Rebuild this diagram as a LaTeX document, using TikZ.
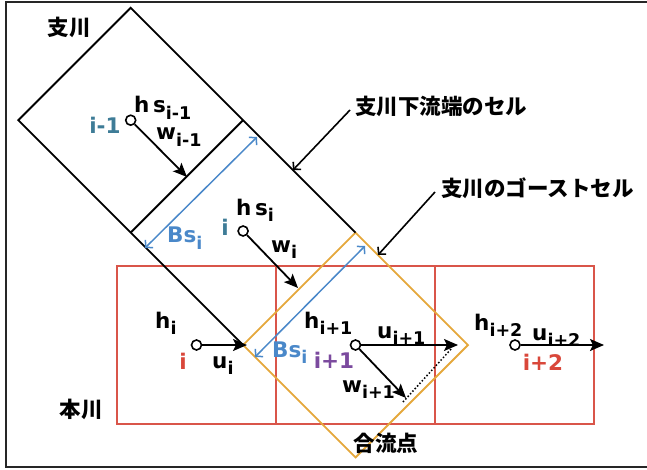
\documentclass[tikz,border=0pt]{standalone}
\usepackage{fontspec}
\setmainfont{DejaVu Sans}
\newfontfamily\jp{Noto Sans CJK JP}
\usetikzlibrary{arrows.meta}
\definecolor{cellred}{HTML}{D9554A}
\definecolor{ghost}{HTML}{E5A83C}
\definecolor{bsblue}{HTML}{4A88C9}
\definecolor{teal}{HTML}{3E7C97}
\definecolor{idxred}{HTML}{D9473A}
\definecolor{idxpur}{HTML}{7B4A9E}
\newcommand\sbs[1]{\raisebox{-0.28em}{\fontsize{17.5}{17.5}\selectfont #1}}
\tikzset{
  lab/.style={font=\fontsize{21.5}{21.5}\selectfont\bfseries, inner sep=0pt},
  jlab/.style={font=\jp\fontsize{21.5}{21.5}\selectfont\bfseries, inner sep=0pt},
  pt/.style={circle, draw, fill=white, minimum size=10pt, inner sep=0pt, line width=1.6pt},
  flow/.style={line width=1.8pt, -{Stealth[length=14pt,width=12pt,inset=3pt]}},
  leader/.style={line width=1.6pt, -{Straight Barb[length=5pt,width=11pt]}},
  bs/.style={bsblue, line width=1.5pt, {Straight Barb[length=5pt,width=11pt]}-{Straight Barb[length=5pt,width=11pt]}},
  cellbox/.style={cellred, line width=2.3pt},
  ghostbox/.style={ghost, line width=1.9pt},
  tribbox/.style={black, line width=1.9pt, line join=miter}
}
\begin{document}
\begin{tikzpicture}[x=1pt,y=-1pt]
\useasboundingbox (0,0) rectangle (647,470);
\draw[line width=2pt, black!85] (6,2) rectangle (655,467);

% geometry
\coordinate (T1) at (130.7,7.8);
\coordinate (L1) at (18.3,120.2);
\coordinate (T2) at (243.1,120.2);
\coordinate (L2) at (130.7,232.6);
\coordinate (R2) at (355.5,232.6);
\coordinate (B2) at (243.1,345);
\coordinate (OB) at (355.5,457.4);
\coordinate (OR) at (467.9,345);

% main channel cells
\draw[cellbox] (117,266) rectangle (276,424);
\draw[cellbox] (276,266) rectangle (435,424);
\draw[cellbox] (435,266) rectangle (594,424);

% ghost cell
\draw[ghostbox] (R2) -- (OR) -- (OB) -- (B2) -- cycle;

% tributary cells
\draw[tribbox] (R2) -- (T2) -- (T1) -- (L1) -- (L2) -- (B2);
\draw[tribbox] (T2) -- (L2);

% points
\node[pt] (p1) at (130.7,120.2) {};
\node[pt] (p2) at (243.1,231) {};
\node[pt] (m1) at (196.5,345) {};
\node[pt] (m2) at (355.5,345) {};
\node[pt] (m3) at (515,345) {};

% arrow ends
\coordinate (w1e) at (187,177);
\coordinate (w2e) at (298,288);
\coordinate (u1e) at (247,345);
\coordinate (u2e) at (458,345);
\coordinate (w3e) at (406,398);
\coordinate (u3e) at (604,345);
\draw[flow] (p1) -- (w1e);
\draw[flow] (p2) -- (w2e);
\draw[flow] (m1) -- (u1e);
\draw[flow] (m2) -- (u2e);
\draw[flow] (m2) -- (w3e);
\draw[flow] (m3) -- (u3e);

% dotted
\coordinate (d1) at (403,402);
\coordinate (d2) at (452,348);
\draw[line width=1.5pt, dotted] (d1) -- (d2);

% Bs arrows
\coordinate (b1a) at (145,248);
\coordinate (b1b) at (257,137);
\coordinate (b2a) at (255,357);
\coordinate (b2b) at (365,246);
\draw[bs] (b1a) -- (b1b);
\draw[bs] (b2a) -- (b2b);

% Japanese labels
\node[jlab] (shisen) at (69,27) {支川};
\node[jlab] (honsen) at (81,409) {本川};
\node[jlab] (goryu) at (386,443) {合流点};
\node[jlab, anchor=west] (kaisen) at (355,106) {支川下流端のセル};
\node[jlab, anchor=west] (ghostl) at (441,188) {支川のゴーストセル};
\coordinate (k1) at (350,110);
\coordinate (k2) at (293,170);
\coordinate (g1) at (435,192);
\coordinate (g2) at (378,255);
\draw[leader] (k1) -- (k2);
\draw[leader] (g1) -- (g2);

% index labels
\node[lab, text=teal] (ix1) at (105,125) {i-1};
\node[lab, text=teal] (ix2) at (225,227) {i};
\node[lab, text=idxred] (ix3) at (183,361) {i};
\node[lab, text=idxpur] (ix4) at (334,360) {i+1};
\node[lab, text=idxred] (ix5) at (543,362) {i+2};

% variable labels
\node[lab, anchor=base west] (hs1) at (134,113) {h\,s\sbs{i-1}};
\node[lab, anchor=base west] (ww1) at (156,140) {w\sbs{i-1}};
\node[lab, anchor=base west] (hs2) at (236,215) {h\,s\sbs{i}};
\node[lab, anchor=base west] (ww2) at (271,252) {w\sbs{i}};
\node[lab, anchor=base west] (hh1) at (155,328) {h\sbs{i}};
\node[lab, anchor=base west] (uu1) at (212,368) {u\sbs{i}};
\node[lab, anchor=base west] (hh2) at (304,328) {h\sbs{i+1}};
\node[lab, anchor=base west] (uu2) at (377,338) {u\sbs{i+1}};
\node[lab, anchor=base west] (ww3) at (342,392) {w\sbs{i+1}};
\node[lab, anchor=base west] (hh3) at (474,330) {h\sbs{i+2}};
\node[lab, anchor=base west] (uu3) at (532,340) {u\sbs{i+2}};
\node[lab, anchor=base west, text=bsblue] (bs1) at (167,243) {Bs\sbs{i}};
\node[lab, anchor=base west, text=bsblue] (bs2) at (272,357) {Bs\sbs{i}};
\end{tikzpicture}
\end{document}
